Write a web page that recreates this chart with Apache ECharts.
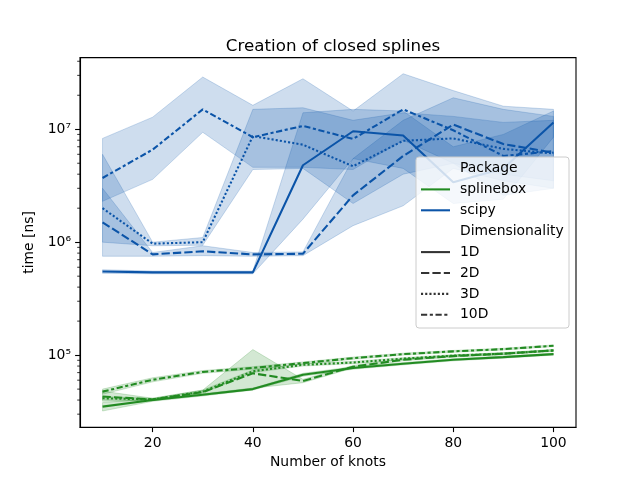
<!DOCTYPE html>
<html>
<head>
<meta charset="utf-8">
<script src="https://cdn.jsdelivr.net/npm/echarts@6/dist/echarts.min.js"></script>
<style>
  html, body { margin: 0; padding: 0; background: #fff; }
  #chart { width: 640px; height: 480px; }
</style>
</head>
<body>
<div id="chart"></div>
<script>
// number of knots (x)
const knots = [10, 20, 30, 40, 50, 60, 70, 80, 90, 100];

// splinebox, time in ns (mean, lower, upper)
const sb1D = [3.5e4, 4.0e4, 4.45e4, 5.0e4, 6.7e4, 7.7e4, 8.4e4, 9.1e4, 9.6e4, 1.02e5];
const sb1DLo = [3.2e4, 3.9e4, 4.35e4, 4.9e4, 6.5e4, 7.5e4, 8.2e4, 8.9e4, 9.4e4, 1.0e5];
const sb1DHi = [3.8e4, 4.1e4, 4.55e4, 5.1e4, 6.9e4, 7.9e4, 8.6e4, 9.3e4, 9.8e4, 1.04e5];
const sb2D = [4.3e4, 4.05e4, 4.7e4, 6.9e4, 5.9e4, 7.9e4, 9.1e4, 9.8e4, 1.03e5, 1.1e5];
const sb2DLo = [3.9e4, 3.95e4, 4.5e4, 5.1e4, 5.7e4, 7.7e4, 8.9e4, 9.6e4, 1.01e5, 1.08e5];
const sb2DHi = [4.8e4, 4.15e4, 4.9e4, 1.12e5, 6.1e4, 8.1e4, 9.3e4, 1.0e5, 1.05e5, 1.12e5];
const sb3D = [4.15e4, 4.05e4, 4.75e4, 7.2e4, 8.2e4, 8.6e4, 9.3e4, 9.9e4, 1.03e5, 1.1e5];
const sb3DLo = [4.0e4, 3.95e4, 4.6e4, 7.0e4, 8.0e4, 8.4e4, 9.1e4, 9.7e4, 1.01e5, 1.08e5];
const sb3DHi = [4.3e4, 4.15e4, 4.9e4, 7.4e4, 8.4e4, 8.8e4, 9.5e4, 1.01e5, 1.05e5, 1.12e5];
const sb10D = [4.75e4, 6.05e4, 7.1e4, 7.7e4, 8.5e4, 9.4e4, 1.02e5, 1.08e5, 1.13e5, 1.21e5];
const sb10DLo = [4.5e4, 5.8e4, 6.9e4, 7.5e4, 8.3e4, 9.2e4, 1.0e5, 1.06e5, 1.11e5, 1.19e5];
const sb10DHi = [5.0e4, 6.3e4, 7.3e4, 7.9e4, 8.7e4, 9.6e4, 1.04e5, 1.1e5, 1.15e5, 1.23e5];

// scipy, time in ns (mean, lower, upper)
const sp1D = [5.5e5, 5.4e5, 5.4e5, 5.4e5, 4.8e6, 9.6e6, 8.8e6, 3.4e6, 4.5e6, 1.15e7];
const sp1DLo = [5.3e5, 5.25e5, 5.25e5, 5.25e5, 1.6e6, 5.5e6, 4.5e6, 2.2e6, 2.4e6, 8.5e6];
const sp1DHi = [5.7e5, 5.55e5, 5.55e5, 5.55e5, 1.4e7, 1.5e7, 1.45e7, 7.0e6, 9.0e6, 1.45e7];
const sp2D = [1.5e6, 7.8e5, 8.3e5, 7.8e5, 7.9e5, 2.6e6, 5.8e6, 1.1e7, 7.4e6, 6.2e6];
const sp2DLo = [7.5e5, 7.5e5, 7.6e5, 7.5e5, 7.6e5, 1.4e6, 2.1e6, 4.5e6, 3.5e6, 3.0e6];
const sp2DHi = [3.0e6, 8.1e5, 9.3e5, 8.1e5, 8.2e5, 5.5e6, 1.2e7, 1.9e7, 1.5e7, 1.3e7];
const sp3D = [2.0e6, 9.7e5, 1.0e6, 8.7e6, 7.3e6, 4.7e6, 7.9e6, 8.3e6, 6.7e6, 6.1e6];
const sp3DLo = [1.0e6, 9.3e5, 9.4e5, 4.4e6, 4.5e6, 2.2e6, 4.0e6, 5.0e6, 4.0e6, 3.5e6];
const sp3DHi = [6.0e6, 1.0e6, 1.1e6, 1.5e7, 1.55e7, 1.2e7, 1.4e7, 1.3e7, 1.15e7, 1.2e7];
const sp10D = [3.7e6, 6.6e6, 1.5e7, 8.5e6, 1.07e7, 8.2e6, 1.5e7, 9.8e6, 5.8e6, 6.4e6];
const sp10DLo = [2.3e6, 3.6e6, 9.4e6, 4.6e6, 4.6e6, 4.4e6, 8.0e6, 5.0e6, 2.6e6, 3.0e6];
const sp10DHi = [8.3e6, 1.28e7, 2.9e7, 1.63e7, 2.8e7, 1.45e7, 3.1e7, 2.2e7, 1.6e7, 1.5e7];

// axis ticks
const xTicks = [20, 40, 60, 80, 100];
const yTicks = [1e5, 1e6, 1e7];
const yMinorTicks = [3e4, 4e4, 5e4, 6e4, 7e4, 8e4, 9e4,
  2e5, 3e5, 4e5, 5e5, 6e5, 7e5, 8e5, 9e5,
  2e6, 3e6, 4e6, 5e6, 6e6, 7e6, 8e6, 9e6,
  2e7, 3e7, 4e7];

const GREEN = '#228b22';
const BLUE = '#0b54a8';
const FONT = 'DejaVu Sans';
const X_MIN = 5.5, X_MAX = 104.5;
const Y_MIN = 2.3e4, Y_MAX = 4.31e7;

// seaborn style dashes (in px for lw 1.5)
const DASH = {
  '1D': 'solid',
  '2D': [8.3, 3.1],
  '3D': [2.1, 2.1],
  '10D': [6.2, 2.6, 3.1, 2.6]
};

function rgba(hex, a) {
  const n = parseInt(hex.slice(1), 16);
  return 'rgba(' + (n >> 16) + ',' + ((n >> 8) & 255) + ',' + (n & 255) + ',' + a + ')';
}

// ci band as one polygon: upper edge left->right, lower edge back
function bandSeries(lo, hi, color) {
  return {
    type: 'custom',
    z: 1,
    silent: true,
    data: [[knots[0], lo[0]]],
    renderItem: function (params, api) {
      const pts = [];
      for (let i = 0; i < knots.length; i++) pts.push(api.coord([knots[i], hi[i]]));
      for (let i = knots.length - 1; i >= 0; i--) pts.push(api.coord([knots[i], lo[i]]));
      return {
        type: 'polygon',
        shape: { points: pts },
        style: { fill: rgba(color, 0.2), stroke: rgba(color, 0.2), lineWidth: 1 }
      };
    }
  };
}

function lineSeries(vals, color, dim) {
  return {
    type: 'line',
    z: 3,
    silent: true,
    symbol: 'none',
    data: knots.map((k, i) => [k, vals[i]]),
    lineStyle: { color: color, width: 2.08, type: DASH[dim] }
  };
}

const groups = [
  [sb1D, sb1DLo, sb1DHi, GREEN, '1D'],
  [sb2D, sb2DLo, sb2DHi, GREEN, '2D'],
  [sb3D, sb3DLo, sb3DHi, GREEN, '3D'],
  [sb10D, sb10DLo, sb10DHi, GREEN, '10D'],
  [sp1D, sp1DLo, sp1DHi, BLUE, '1D'],
  [sp2D, sp2DLo, sp2DHi, BLUE, '2D'],
  [sp3D, sp3DLo, sp3DHi, BLUE, '3D'],
  [sp10D, sp10DLo, sp10DHi, BLUE, '10D']
];

const series = [];
groups.forEach(g => series.push(bandSeries(g[1], g[2], g[3])));
groups.forEach(g => series.push(lineSeries(g[0], g[3], g[4])));

// minor ticks of the log axis (at 2..9 x 10^k, like matplotlib)
series.push({
  type: 'custom',
  z: 5,
  silent: true,
  clip: false,
  data: yMinorTicks.map(v => [X_MIN, v]),
  renderItem: function (params, api) {
    const p = api.coord([api.value(0), api.value(1)]);
    return {
      type: 'line',
      shape: { x1: p[0] - 2.8, y1: p[1], x2: p[0], y2: p[1] },
      style: { stroke: '#000', lineWidth: 0.8 }
    };
  }
});

const SUP = { '4': '\u2074', '5': '\u2075', '6': '\u2076', '7': '\u2077' };

// legend, drawn by hand to match the seaborn layout
const legendRows = [
  { text: 'Package' },
  { text: 'splinebox', color: GREEN, dash: 'solid' },
  { text: 'scipy', color: BLUE, dash: 'solid' },
  { text: 'Dimensionality' },
  { text: '1D', color: '#333', dash: DASH['1D'] },
  { text: '2D', color: '#333', dash: DASH['2D'] },
  { text: '3D', color: '#333', dash: DASH['3D'] },
  { text: '10D', color: '#333', dash: DASH['10D'] }
];
const legendEls = [{
  type: 'rect',
  z: 100,
  shape: { x: 416, y: 157, width: 153, height: 171, r: 3 },
  style: { fill: 'rgba(255,255,255,0.8)', stroke: '#cccccc', lineWidth: 1 }
}];
legendRows.forEach((row, i) => {
  const cy = 168.5 + i * 20.9;
  if (row.color) {
    legendEls.push({
      type: 'line',
      z: 101,
      shape: { x1: 421, y1: cy, x2: 450, y2: cy },
      style: { stroke: row.color, lineWidth: 2.08, lineDash: row.dash === 'solid' ? null : row.dash }
    });
  }
  legendEls.push({
    type: 'text',
    z: 101,
    x: 460, y: cy,
    style: { text: row.text, fill: '#000', font: '13.9px "DejaVu Sans"', verticalAlign: 'middle' }
  });
});

const chart = echarts.init(document.getElementById('chart'));
chart.setOption({
  animation: false,
  backgroundColor: '#fff',
  title: {
    text: 'Creation of closed splines',
    left: 328, top: 33, textAlign: 'center',
    textStyle: { fontFamily: FONT, fontSize: 16.7, fontWeight: 'normal', color: '#000' }
  },
  grid: {
    left: 80, right: 64, top: 57.6, bottom: 52.8,
    show: true, borderColor: '#000', borderWidth: 1.1, backgroundColor: 'transparent'
  },
  xAxis: {
    type: 'value',
    min: X_MIN, max: X_MAX,
    name: 'Number of knots',
    nameLocation: 'middle', nameGap: 27,
    nameTextStyle: { fontFamily: FONT, fontSize: 13.9, color: '#000' },
    axisLine: { show: true, lineStyle: { color: '#000', width: 1.1 } },
    axisTick: { show: true, length: 4.9, lineStyle: { color: '#000', width: 1.1 }, customValues: xTicks },
    axisLabel: { fontFamily: FONT, fontSize: 13.9, color: '#000', margin: 9, customValues: xTicks },
    splitLine: { show: false }
  },
  yAxis: {
    type: 'log',
    logBase: 10,
    min: Y_MIN, max: Y_MAX,
    name: 'time [ns]',
    nameLocation: 'middle', nameGap: 40,
    nameTextStyle: { fontFamily: FONT, fontSize: 13.9, color: '#000' },
    axisLine: { show: true, lineStyle: { color: '#000', width: 1.1 } },
    axisTick: { show: true, length: 4.9, lineStyle: { color: '#000', width: 1.1 }, customValues: yTicks },
    axisLabel: {
      fontFamily: FONT, fontSize: 13.9, color: '#000', margin: 9, customValues: yTicks,
      formatter: v => '10' + SUP[String(Math.round(Math.log10(v)))]
    },
    splitLine: { show: false },
    minorTick: { show: false }
  },
  graphic: legendEls,
  series: series
});
</script>
</body>
</html>
